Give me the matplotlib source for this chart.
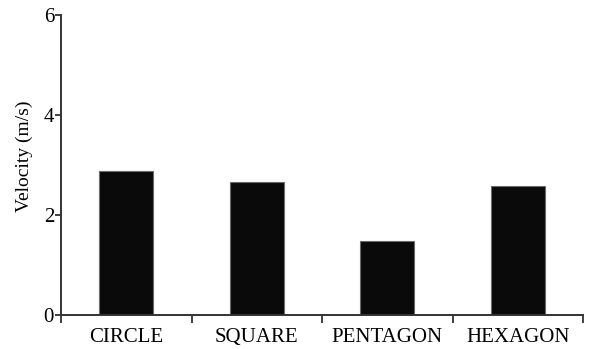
import matplotlib
matplotlib.use("Agg")
import matplotlib.pyplot as plt
import numpy as np

categories = ["CIRCLE", "SQUARE", "PENTAGON", "HEXAGON"]
velocity = [2.89, 2.66, 1.49, 2.59]
y_ticks = [0, 2, 4, 6]

plt.rcParams["font.family"] = ["Liberation Serif", "DejaVu Serif"]

fig = plt.figure(figsize=(5.9, 3.49), dpi=100)
ax = fig.add_axes([61 / 590, 34 / 349, 522 / 590, 300 / 349])

x = np.arange(len(categories))
ax.bar(x, velocity, width=0.41, color="#0a0a0a", edgecolor="#6a6a6a", linewidth=0.8)

ax.set_xlim(-0.5, len(categories) - 0.5)
ax.set_ylim(0, 6)
ax.set_yticks(y_ticks)
ax.set_yticklabels([str(t) for t in y_ticks], fontsize=15)

# boundary ticks between categories, labels centered under bars
ax.set_xticks(np.arange(len(categories) + 1) - 0.5)
ax.set_xticklabels([])
ax.set_xticks(x, minor=True)
ax.set_xticklabels(categories, minor=True, fontsize=15)
ax.tick_params(axis="x", which="major", direction="out", length=6, width=1.3, color="#333333")
ax.tick_params(axis="x", which="minor", length=0, pad=9.5)
ax.tick_params(axis="y", direction="out", length=4, width=1.3, color="#333333", pad=1)

for side in ("top", "right"):
    ax.spines[side].set_visible(False)
for side in ("left", "bottom"):
    ax.spines[side].set_linewidth(1.4)
    ax.spines[side].set_color("#333333")

ax.set_ylabel("Velocity (m/s)", fontsize=14)
ax.yaxis.set_label_coords(-0.054, 0.528)

fig.savefig("out.png", dpi=100)
